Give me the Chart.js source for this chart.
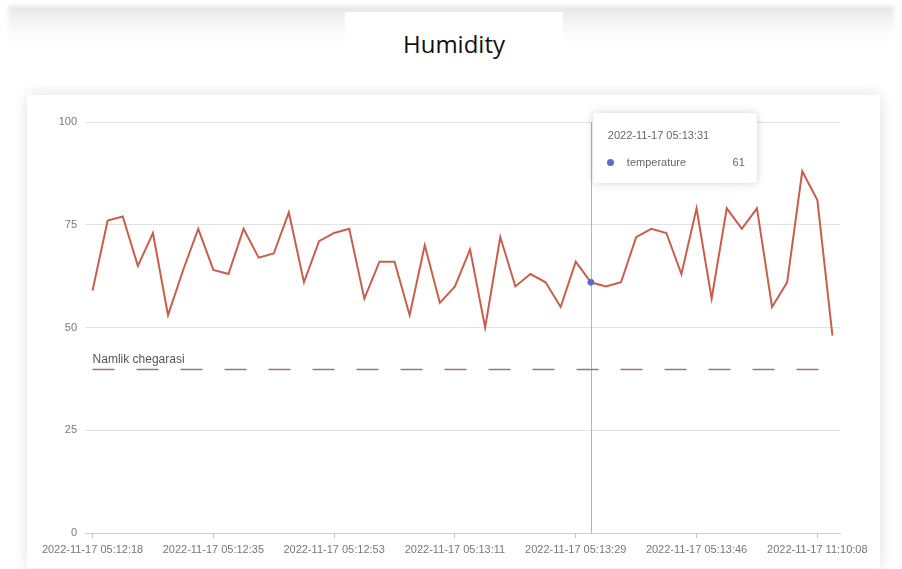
<!DOCTYPE html>
<html>
<head>
<meta charset="utf-8">
<title>Humidity</title>
<script src="https://cdn.jsdelivr.net/npm/chart.js@4.4.1/dist/chart.umd.min.js"></script>
<style>
  html, body { margin: 0; padding: 0; background: #fff; }
  body { width: 902px; height: 569px; position: relative; overflow: hidden; font-family: "Liberation Sans", Arial, sans-serif; }
  #headerBand {
    position: absolute; left: 8px; top: 6px; width: 886px; height: 40px;
    background: linear-gradient(to bottom, #e2e2e2 0px, #efefef 8px, #fbfbfb 26px, #fff 40px);
    filter: blur(2px);
  }
  #titleBox {
    position: absolute; left: 345px; top: 12px; width: 218px; height: 73px;
    background: #fff; text-align: center;
    font-family: "Open Sans", sans-serif; font-size: 24px; color: #111;
    line-height: 64px;
  }
  #card {
    position: absolute; left: 27px; top: 95px; width: 853px; height: 473px;
    background: #fff; box-shadow: 0 0 14px rgba(0,0,0,0.13);
  }
  #tip {
    position: absolute; display: none; width: 164px; height: 70px; box-sizing: border-box;
    background: #fff; border-radius: 4px; box-shadow: 0 0 8px rgba(0,0,0,0.18);
    padding: 15px 12px 0 15px; font-size: 11px; color: #666;
  }
  #tip .tt-title { line-height: 14px; }
  #tip .tt-row { margin-top: 13px; line-height: 14px; display: flex; align-items: center; }
  #tip .tt-dot { width: 7px; height: 7px; border-radius: 50%; background: #5470c6; margin-right: 13px; margin-left: -1px; }
  #tip .tt-val { margin-left: auto; }
</style>
</head>
<body>
<div id="headerBand"></div>
<div id="titleBox">Humidity</div>
<div id="card">
  <canvas id="myChart" width="853" height="473"></canvas>
  <div id="tip"><div class="tt-title"></div><div class="tt-row"><span class="tt-dot"></span><span class="tt-name"></span><span class="tt-val"></span></div></div>
</div>
<script>
// time stamps of the readings
var labels = [
  '2022-11-17 05:12:18','2022-11-17 05:12:20','2022-11-17 05:12:22','2022-11-17 05:12:24',
  '2022-11-17 05:12:27','2022-11-17 05:12:29','2022-11-17 05:12:31','2022-11-17 05:12:33',
  '2022-11-17 05:12:35','2022-11-17 05:12:37','2022-11-17 05:12:40','2022-11-17 05:12:42',
  '2022-11-17 05:12:44','2022-11-17 05:12:46','2022-11-17 05:12:48','2022-11-17 05:12:51',
  '2022-11-17 05:12:53','2022-11-17 05:12:55','2022-11-17 05:12:57','2022-11-17 05:12:59',
  '2022-11-17 05:13:02','2022-11-17 05:13:04','2022-11-17 05:13:06','2022-11-17 05:13:08',
  '2022-11-17 05:13:11','2022-11-17 05:13:13','2022-11-17 05:13:15','2022-11-17 05:13:17',
  '2022-11-17 05:13:20','2022-11-17 05:13:22','2022-11-17 05:13:24','2022-11-17 05:13:26',
  '2022-11-17 05:13:29','2022-11-17 05:13:31','2022-11-17 05:13:33','2022-11-17 05:13:35',
  '2022-11-17 05:13:37','2022-11-17 05:13:40','2022-11-17 05:13:42','2022-11-17 05:13:44',
  '2022-11-17 05:13:46','2022-11-17 05:13:48','2022-11-17 05:13:51','2022-11-17 05:13:53',
  '2022-11-17 05:13:55','2022-11-17 05:13:57','2022-11-17 11:09:56','2022-11-17 11:09:58',
  '2022-11-17 11:10:08','2022-11-17 11:10:10'
];
var seriesName = 'temperature';
var humidity = [
  59, 76, 77, 65, 73, 53, 64, 74, 64, 63,
  74, 67, 68, 78, 61, 71, 73, 74, 57, 66,
  66, 53, 70, 56, 60, 69, 50, 72, 60, 63,
  61, 55, 66, 61, 60, 61, 72, 74, 73, 63,
  79, 57, 79, 74, 79, 55, 61, 88, 81, 48
];
var yTicks = [0, 25, 50, 75, 100];
var thresholdValue = 40;
var thresholdLabel = 'Namlik chegarasi';
var labelEvery = 8;
var hoverIndex = 33;

// dashed limit line with its label
var thresholdLine = {
  id: 'thresholdLine',
  afterDatasetsDraw: function(chart) {
    var ctx = chart.ctx, x = chart.scales.x, y = chart.scales.y;
    var yPos = Math.round(y.getPixelForValue(thresholdValue)) + 0.5;
    var x0 = x.getPixelForValue(0);
    var x1 = x.getPixelForValue(labels.length - 1);
    ctx.save();
    ctx.strokeStyle = '#8f7d78';
    ctx.lineWidth = 1.5;
    ctx.setLineDash([22, 22]);
    ctx.beginPath();
    ctx.moveTo(x0, yPos);
    ctx.lineTo(x1, yPos);
    ctx.stroke();
    ctx.setLineDash([]);
    ctx.fillStyle = '#555';
    ctx.font = '12px "Liberation Sans", Arial, sans-serif';
    ctx.textBaseline = 'bottom';
    ctx.fillText(thresholdLabel, x0, yPos - 4);
    ctx.restore();
  }
};

// vertical pointer line at the hovered point
var crosshair = {
  id: 'crosshair',
  beforeDatasetsDraw: function(chart) {
    var act = chart.getActiveElements();
    if (!act.length) return;
    var xPos = Math.round(act[0].element.x) + 0.5;
    var ctx = chart.ctx;
    ctx.save();
    ctx.strokeStyle = '#b4b4b4';
    ctx.lineWidth = 1;
    ctx.beginPath();
    ctx.moveTo(xPos, chart.chartArea.top);
    ctx.lineTo(xPos, chart.chartArea.bottom);
    ctx.stroke();
    ctx.restore();
  }
};

function htmlTooltip(context) {
  var chart = context.chart, tooltip = context.tooltip;
  var el = document.getElementById('tip');
  if (tooltip.opacity === 0 || !tooltip.dataPoints || !tooltip.dataPoints.length) {
    el.style.display = 'none';
    return;
  }
  var dp = tooltip.dataPoints[0];
  el.querySelector('.tt-title').textContent = tooltip.title[0];
  el.querySelector('.tt-name').textContent = dp.dataset.label;
  el.querySelector('.tt-val').textContent = dp.formattedValue;
  el.style.display = 'block';
  el.style.left = (tooltip.caretX + 2) + 'px';
  el.style.top = (chart.chartArea.top - 9) + 'px';
}

var ctx = document.getElementById('myChart').getContext('2d');
var myChart = new Chart(ctx, {
  type: 'line',
  data: {
    labels: labels,
    datasets: [{
      label: seriesName,
      data: humidity,
      borderColor: '#c95e4c',
      borderWidth: 2,
      tension: 0,
      fill: false,
      pointRadius: 0,
      pointHoverRadius: 3,
      pointHoverBorderWidth: 1,
      pointHoverBackgroundColor: '#5470c6',
      pointHoverBorderColor: '#5470c6'
    }]
  },
  options: {
    responsive: false,
    animation: false,
    devicePixelRatio: 1,
    events: [],
    layout: { padding: { top: 27, right: 40, left: 0, bottom: 0 } },
    plugins: {
      legend: { display: false },
      title: { display: false },
      tooltip: { enabled: false, external: htmlTooltip, mode: 'index', intersect: false }
    },
    scales: {
      x: {
        type: 'category',
        offset: true,
        afterFit: function(scale) { scale.height = 35; },
        grid: { display: true, drawOnChartArea: false, drawTicks: true, tickLength: 5, color: '#c4c4c4' },
        border: { display: true, color: '#cfcfcf' },
        ticks: {
          autoSkip: false, maxRotation: 0, minRotation: 0, padding: 5,
          color: '#777', font: { family: '"Liberation Sans", Arial, sans-serif', size: 11 },
          callback: function(v, i) { return i % labelEvery === 0 ? labels[i] : null; }
        }
      },
      y: {
        min: 0, max: 100,
        afterFit: function(scale) { scale.width = 58; },
        afterBuildTicks: function(scale) { scale.ticks = yTicks.map(function(v) { return { value: v }; }); },
        grid: { color: '#e2e2e2', drawTicks: false },
        border: { display: false },
        ticks: { padding: 8, color: '#777', font: { family: '"Liberation Sans", Arial, sans-serif', size: 11 } }
      }
    }
  },
  plugins: [crosshair, thresholdLine]
});

var meta = myChart.getDatasetMeta(0);
var pt = meta.data[hoverIndex];
myChart.setActiveElements([{ datasetIndex: 0, index: hoverIndex }]);
myChart.tooltip.setActiveElements([{ datasetIndex: 0, index: hoverIndex }], { x: pt.x, y: pt.y });
myChart.update();
</script>
</body>
</html>
